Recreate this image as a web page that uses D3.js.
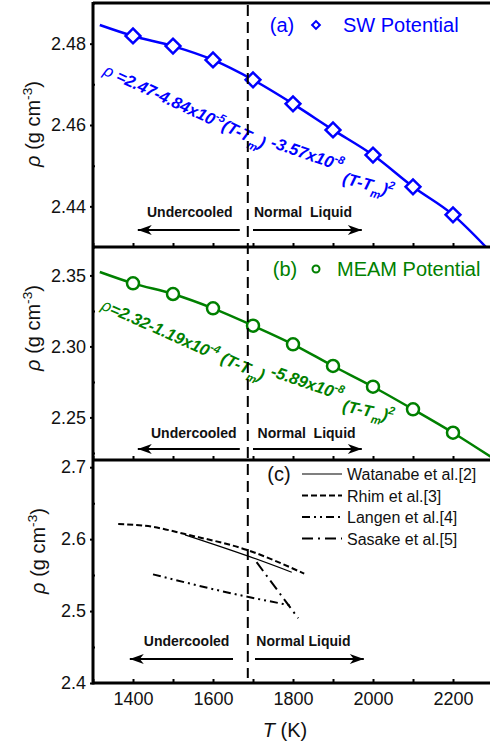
<!DOCTYPE html>
<html>
<head>
<meta charset="utf-8">
<script src="https://cdn.jsdelivr.net/npm/d3@7/dist/d3.min.js"></script>
<style>
  body { margin: 0; background: #fff; }
  svg { display: block; font-family: "Liberation Sans", Arial, sans-serif; }
  text { white-space: pre; }
</style>
</head>
<body>
<div id="chart"></div>
<script>
// melting temperature of Si (K)
const Tm = 1687;

// simulated points, both potentials
const temps = [1400, 1500, 1600, 1700, 1800, 1900, 2000, 2100, 2200];
const swDensity = [2.4819, 2.4794, 2.4760, 2.4711, 2.4652, 2.4588, 2.4526, 2.4448, 2.4379];
const meamDensity = [2.3444, 2.3369, 2.3268, 2.3146, 2.3015, 2.2862, 2.2716, 2.2557, 2.2392];

// fitted curves
const swFitT = [1317, 1400, 1500, 1600, 1700, 1800, 1900, 2000, 2100, 2200, 2290];
const swFitRho = [2.4846, 2.4819, 2.4794, 2.4760, 2.4711, 2.4652, 2.4588, 2.4526, 2.4448, 2.4379, 2.4292];
const meamFitT = [1317, 1400, 1500, 1600, 1700, 1800, 1900, 2000, 2100, 2200, 2300];
const meamFitRho = [2.3524, 2.3444, 2.3369, 2.3268, 2.3146, 2.3015, 2.2862, 2.2716, 2.2557, 2.2392, 2.2212];

// experimental data (panel c)
const watanabeT = [1530, 1690, 1797];
const watanabeRho = [2.606, 2.576, 2.554];
const rhimT = [1363, 1450, 1530, 1690, 1828];
const rhimRho = [2.621, 2.617, 2.607, 2.584, 2.552];
const langenT = [1450, 1668, 1793];
const langenRho = [2.551, 2.522, 2.508];
const sasakeT = [1709, 1813];
const sasakeRho = [2.568, 2.490];

const legendNames = ['Watanabe et al.[2]', 'Rhim et al.[3]', 'Langen et al.[4]', 'Sasake et al.[5]'];

// ticks
const xTicks = [1400, 1600, 1800, 2000, 2200];
const xMinorTicks = [1300, 1400, 1500, 1600, 1700, 1800, 1900, 2000, 2100, 2200, 2300];
const aTicks = [2.44, 2.46, 2.48];
const aMinor = [2.43, 2.45, 2.47, 2.49];
const bTicks = [2.25, 2.30, 2.35];
const bMinor = [2.225, 2.275, 2.325];
const cTicks = [2.4, 2.5, 2.6, 2.7];
const cMinor = [2.45, 2.55, 2.65];

const blue = '#0000ff';
const green = '#008000';
const width = 490, height = 746;
const left = 93, right = 493;

const svg = d3.select('#chart')
  .append('svg')
  .attr('width', width)
  .attr('height', height);

const defs = svg.append('defs');
defs.append('marker')
  .attr('id', 'head')
  .attr('markerUnits', 'userSpaceOnUse')
  .attr('viewBox', '-15 -6 16 12')
  .attr('refX', 0).attr('refY', 0)
  .attr('markerWidth', 16).attr('markerHeight', 12)
  .attr('orient', 'auto')
  .append('path')
  .attr('d', 'M0,0L-14,-5L-10,0L-14,5Z')
  .attr('fill', '#000');

const x = d3.scaleLinear().domain([1300, 2300]).range([left, right]);

const panels = [
  { id: 'a', domain: [2.43, 2.49], top: 3, bottom: 247, ticks: aTicks, minor: aMinor, fmt: '.2f', titleY: 124, titleX: 40 },
  { id: 'b', domain: [2.22, 2.37], top: 247, bottom: 460, ticks: bTicks, minor: bMinor, fmt: '.2f', titleY: 328, titleX: 40 },
  { id: 'c', domain: [2.4, 2.71], top: 460, bottom: 683, ticks: cTicks, minor: cMinor, fmt: '.1f', titleY: 551, titleX: 45 }
];
panels.forEach(p => {
  p.y = d3.scaleLinear().domain(p.domain).range([p.bottom, p.top]);
  p.g = svg.append('g');
  defs.append('clipPath').attr('id', 'clip-' + p.id)
    .append('rect')
    .attr('x', left).attr('y', p.top)
    .attr('width', right - left).attr('height', p.bottom - p.top);
});
const [pa, pb, pc] = panels;

// write text with sub/superscripts into a <text>
function rich(text, parts, size) {
  let shift = 0;
  parts.forEach(([str, kind]) => {
    const small = kind === 'sup' || kind === 'sub';
    const target = kind === 'sup' ? -size * 0.42 : kind === 'sub' ? size * 0.34 : 0;
    text.append('tspan')
      .attr('dy', target - shift)
      .style('font-size', small ? (size * 0.68) + 'px' : null)
      .style('font-style', kind === 'rho' ? 'italic' : null)
      .style('font-weight', kind === 'rho' ? 'normal' : null)
      .text(str);
    shift = target;
  });
}

// equation laid out in pieces, each piece placed at (T, rho) with its own angle
const eqSize = 16.5;
function equation(p, pieces, color) {
  pieces.forEach(([T, rho, angle, parts]) => {
    const t = p.g.append('text')
      .attr('transform', `translate(${x(T)},${p.y(rho)}) rotate(${angle})`)
      .attr('fill', color)
      .style('font-size', eqSize + 'px')
      .style('font-weight', 'bold')
      .style('font-style', 'italic');
    rich(t, parts, eqSize);
  });
}

// axes and frames
panels.forEach(p => {
  const g = p.g;
  const yAxis = g.append('g')
    .attr('transform', `translate(${left},0)`)
    .call(d3.axisLeft(p.y).tickValues(p.ticks).tickSize(3).tickPadding(4).tickFormat(d3.format(p.fmt)));
  yAxis.select('.domain').remove();
  yAxis.selectAll('text').style('font-size', '18px').style('font-family', 'Liberation Sans, Arial, sans-serif').attr('fill', '#111');
  yAxis.selectAll('line').attr('stroke-width', 2);

  g.append('g').attr('transform', `translate(${left},0)`)
    .call(d3.axisRight(p.y).tickValues(p.minor).tickSize(2).tickFormat(''))
    .call(s => s.select('.domain').remove())
    .selectAll('line').attr('stroke-width', 2);

  g.append('g').attr('transform', `translate(0,${p.bottom})`)
    .call(d3.axisTop(x).tickValues(xMinorTicks).tickSize(4).tickFormat(''))
    .call(s => s.select('.domain').remove())
    .selectAll('line').attr('stroke-width', 2);

  // y title
  const t = g.append('text')
    .attr('transform', `translate(${p.titleX},${p.titleY}) rotate(-90)`)
    .attr('text-anchor', 'middle')
    .attr('fill', '#111')
    .style('font-size', '20px');
  rich(t, [['ρ', 'rho'], [' (g cm'], ['-3', 'sup'], [')']], 20);
});

// x labels on the bottom panel
const xAxis = pc.g.append('g')
  .attr('transform', `translate(0,${pc.bottom})`)
  .call(d3.axisBottom(x).tickValues(xTicks).tickSize(0).tickPadding(9).tickFormat(d3.format('d')));
xAxis.select('.domain').remove();
xAxis.selectAll('text').style('font-size', '18px').style('font-family', 'Liberation Sans, Arial, sans-serif').attr('fill', '#111');

const xTitle = svg.append('text')
  .attr('x', 285).attr('y', 737)
  .attr('text-anchor', 'middle')
  .attr('fill', '#111')
  .style('font-size', '20px');
rich(xTitle, [['T', 'rho'], [' (K)']], 20);

// frame lines
svg.append('line').attr('x1', left).attr('x2', left).attr('y1', 2).attr('y2', 684.5)
  .attr('stroke', '#000').attr('stroke-width', 3);
[3, 247, 460, 683].forEach(yy => {
  svg.append('line').attr('x1', left).attr('x2', right).attr('y1', yy).attr('y2', yy)
    .attr('stroke', '#000').attr('stroke-width', 3);
});

// Tm dashed line
svg.append('line')
  .attr('x1', x(Tm)).attr('x2', x(Tm))
  .attr('y1', 5).attr('y2', 678)
  .attr('stroke', '#000')
  .attr('stroke-width', 2)
  .attr('stroke-dasharray', '11,6');

// panel (a): SW potential
const lineA = d3.line().x(d => x(d[0])).y(d => pa.y(d[1])).curve(d3.curveMonotoneX);
pa.g.append('path')
  .attr('clip-path', 'url(#clip-a)')
  .attr('d', lineA(d3.zip(swFitT, swFitRho)))
  .attr('fill', 'none').attr('stroke', blue).attr('stroke-width', 2.5);

const diamond = d3.symbol().type(d3.symbolSquare).size(110);
pa.g.selectAll('.sw')
  .data(d3.zip(temps, swDensity))
  .join('path')
  .attr('class', 'sw')
  .attr('d', diamond)
  .attr('transform', d => `translate(${x(d[0])},${pa.y(d[1])}) rotate(45)`)
  .attr('fill', '#fff').attr('stroke', blue).attr('stroke-width', 2.5);

equation(pa, [
  [1323, 2.4725, 25, [['ρ ', 'rho'], ['=2.47-4.84x10'], ['-5', 'sup'], ['(T-T'], ['m', 'sub'], [')']]],
  [1742, 2.4546, 19, [['-3.57x10'], ['-8', 'sup']]],
  [1922, 2.4457, 15, [['(T-T'], ['m', 'sub'], [')'], ['2', 'sup']]]
], blue);

// panel (b): MEAM potential
const lineB = d3.line().x(d => x(d[0])).y(d => pb.y(d[1])).curve(d3.curveMonotoneX);
pb.g.append('path')
  .attr('clip-path', 'url(#clip-b)')
  .attr('d', lineB(d3.zip(meamFitT, meamFitRho)))
  .attr('fill', 'none').attr('stroke', green).attr('stroke-width', 2.5);

pb.g.selectAll('.meam')
  .data(d3.zip(temps, meamDensity))
  .join('circle')
  .attr('class', 'meam')
  .attr('cx', d => x(d[0])).attr('cy', d => pb.y(d[1]))
  .attr('r', 6)
  .attr('fill', '#fff').attr('stroke', green).attr('stroke-width', 2.5);

equation(pb, [
  [1318, 2.3263, 24, [['ρ', 'rho'], ['=2.32-1.19x10'], ['-4', 'sup'], [' (T-T'], ['m', 'sub'], [')']]],
  [1742, 2.2792, 19, [['-5.89x10'], ['-8', 'sup']]],
  [1922, 2.2545, 12, [['(T-T'], ['m', 'sub'], [')'], ['2', 'sup']]]
], green);

// panel labels for (a) and (b)
[[pa, '(a)', 'SW Potential', blue, 343, 282], [pb, '(b)', 'MEAM Potential', green, 337, 285]].forEach(([p, lab, name, color, nx, lx]) => {
  const cy = p.top + 22;
  p.g.append('text').attr('x', lx).attr('y', cy + 7)
    .attr('text-anchor', 'middle').attr('fill', color).style('font-size', '20px').text(lab);
  if (lab === '(a)') {
    p.g.append('path').attr('d', d3.symbol().type(d3.symbolSquare).size(30))
      .attr('transform', `translate(316,${cy}) rotate(45)`)
      .attr('fill', '#fff').attr('stroke', color).attr('stroke-width', 2);
  } else {
    p.g.append('circle').attr('cx', 316).attr('cy', cy).attr('r', 3.5)
      .attr('fill', '#fff').attr('stroke', color).attr('stroke-width', 2);
  }
  p.g.append('text').attr('x', nx).attr('y', cy + 7)
    .attr('fill', color).style('font-size', '20px').text(name);
});

// panel (c): experiments
const lineC = d3.line().x(d => x(d[0])).y(d => pc.y(d[1])).curve(d3.curveMonotoneX);
const expSeries = [
  { T: watanabeT, rho: watanabeRho, dash: null, w: 1.2 },
  { T: rhimT, rho: rhimRho, dash: '6,3', w: 2 },
  { T: langenT, rho: langenRho, dash: '8,4,2,4,2,4', w: 2 },
  { T: sasakeT, rho: sasakeRho, dash: '11,5,2,5', w: 2 }
];
pc.g.selectAll('.exp')
  .data(expSeries)
  .join('path')
  .attr('class', 'exp')
  .attr('d', d => lineC(d3.zip(d.T, d.rho)))
  .attr('fill', 'none')
  .attr('stroke', '#000')
  .attr('stroke-width', d => d.w)
  .attr('stroke-dasharray', d => d.dash);

pc.g.append('text').attr('x', 279).attr('y', 481)
  .attr('text-anchor', 'middle').attr('fill', '#111').style('font-size', '20px').text('(c)');

const legend = pc.g.selectAll('.leg')
  .data(expSeries)
  .join('g')
  .attr('class', 'leg')
  .attr('transform', (d, i) => `translate(302,${474 + i * 21.5})`);
legend.append('line')
  .attr('x1', 0).attr('x2', 40)
  .attr('stroke', '#000')
  .attr('stroke-width', d => d.w)
  .attr('stroke-dasharray', d => d.dash);
legend.append('text')
  .attr('x', 45).attr('y', 6)
  .attr('fill', '#111')
  .style('font-size', '16px')
  .text((d, i) => legendNames[i]);

// undercooled / normal liquid arrows
const arrows = [
  { p: pa, arrowRho: 2.4342, textRho: 2.4374, leftT: [1667, 1412], rightT: [1700, 1972], textT: [1542, 1825], normal: 'Normal  Liquid' },
  { p: pb, arrowRho: 2.2277, textRho: 2.2355, leftT: [1667, 1412], rightT: [1700, 1972], textT: [1552, 1834], normal: 'Normal  Liquid' },
  { p: pc, arrowRho: 2.4332, textRho: 2.4512, leftT: [1650, 1392], rightT: [1705, 1977], textT: [1534, 1826], normal: 'Normal Liquid' }
];
arrows.forEach(a => {
  const ay = a.p.y(a.arrowRho), ty = a.p.y(a.textRho);
  [a.leftT, a.rightT].forEach(seg => {
    a.p.g.append('line')
      .attr('x1', x(seg[0])).attr('x2', x(seg[1]))
      .attr('y1', ay).attr('y2', ay)
      .attr('stroke', '#000').attr('stroke-width', 2)
      .attr('marker-end', 'url(#head)');
  });
  a.p.g.append('text').attr('x', x(a.textT[0])).attr('y', ty)
    .attr('text-anchor', 'middle').attr('fill', '#111')
    .style('font-size', '14px').style('font-weight', 'bold').text('Undercooled');
  a.p.g.append('text').attr('x', x(a.textT[1])).attr('y', ty)
    .attr('text-anchor', 'middle').attr('fill', '#111')
    .style('font-size', '14px').style('font-weight', 'bold').text(a.normal);
});
</script>
</body>
</html>
